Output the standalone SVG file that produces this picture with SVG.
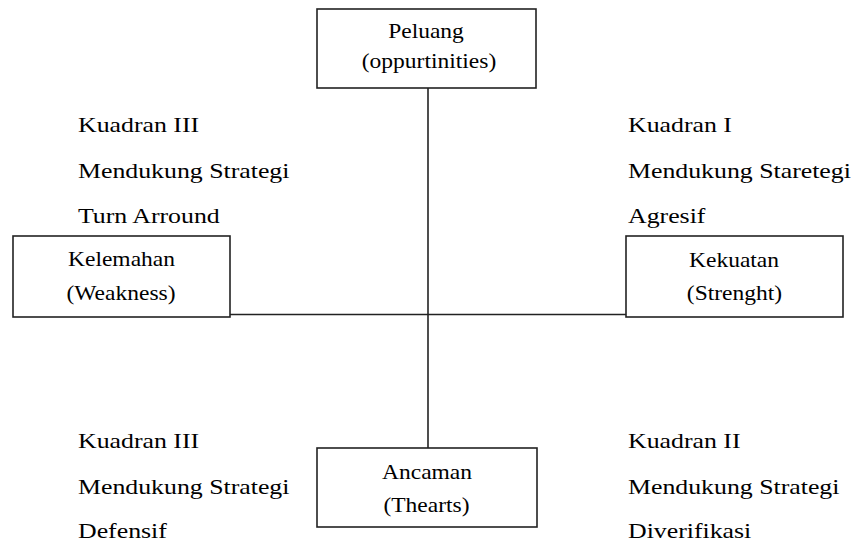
<svg xmlns="http://www.w3.org/2000/svg" width="855" height="542" viewBox="0 0 855 542">
<style>
  .box { fill: #ffffff; stroke: #222222; stroke-width: 1.6; }
  .conn { stroke: #222222; stroke-width: 1.6; fill: none; }
  text { font-family: "Liberation Serif", "Times New Roman", serif; font-size: 21px; fill: #000000; }
  .c { text-anchor: middle; }
</style>
<rect width="855" height="542" fill="#ffffff"/>
<g id="connectors">
  <line class="conn" x1="428" y1="88" x2="428" y2="448"/>
  <line class="conn" x1="230" y1="314.5" x2="626" y2="314.5"/>
</g>
<g id="peluang">
  <rect class="box" x="317" y="9" width="219" height="79"/>
  <text class="c" transform="translate(426,38) scale(1.12,1)">Peluang</text>
  <text class="c" transform="translate(429,68) scale(1.12,1)">(oppurtinities)</text>
</g>
<g id="kelemahan">
  <rect class="box" x="13" y="236" width="217" height="81"/>
  <text class="c" transform="translate(121.5,266) scale(1.12,1)">Kelemahan</text>
  <text class="c" transform="translate(121,300) scale(1.12,1)">(Weakness)</text>
</g>
<g id="kekuatan">
  <rect class="box" x="626" y="236" width="217" height="81"/>
  <text class="c" transform="translate(734,267) scale(1.12,1)">Kekuatan</text>
  <text class="c" transform="translate(734.5,299.5) scale(1.12,1)">(Strenght)</text>
</g>
<g id="ancaman">
  <rect class="box" x="317" y="448" width="220" height="79"/>
  <text class="c" transform="translate(427,478.5) scale(1.12,1)">Ancaman</text>
  <text class="c" transform="translate(426.5,511.5) scale(1.12,1)">(Thearts)</text>
</g>
<g id="kuadran-tl" transform="translate(78,0) scale(1.23,1)">
  <text x="0" y="132">Kuadran III</text>
  <text x="0" y="178">Mendukung Strategi</text>
  <text x="0" y="223">Turn Arround</text>
</g>
<g id="kuadran-tr" transform="translate(628,0) scale(1.23,1)">
  <text x="0" y="132">Kuadran I</text>
  <text x="0" y="178">Mendukung Staretegi</text>
  <text x="0" y="223">Agresif</text>
</g>
<g id="kuadran-bl" transform="translate(78,0) scale(1.23,1)">
  <text x="0" y="448">Kuadran III</text>
  <text x="0" y="494">Mendukung Strategi</text>
  <text x="0" y="538">Defensif</text>
</g>
<g id="kuadran-br" transform="translate(628,0) scale(1.23,1)">
  <text x="0" y="448">Kuadran II</text>
  <text x="0" y="494">Mendukung Strategi</text>
  <text x="0" y="538">Diverifikasi</text>
</g>
</svg>
